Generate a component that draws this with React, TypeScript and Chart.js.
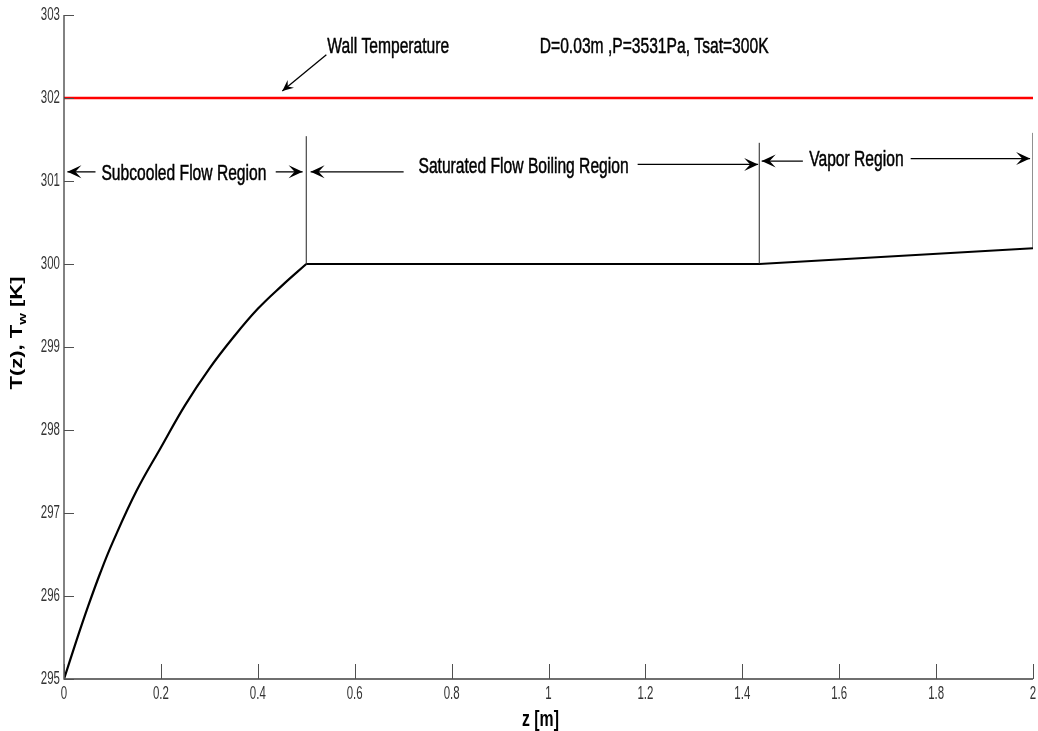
import React, { useEffect, useRef } from "react";
import { Chart, registerables } from "chart.js";

Chart.register(...registerables);

// ---- Data ----
const Z_SUBCOOLED = [0, 0.025, 0.05, 0.075, 0.1, 0.15, 0.2, 0.25, 0.3, 0.35, 0.4, 0.45, 0.5];
const T_SUBCOOLED = [295, 295.45, 295.88, 296.28, 296.64, 297.27, 297.79, 298.3, 298.74, 299.12, 299.46, 299.74, 300];
const Z_SAT_VAPOR = [0.5, 1.435, 2];
const T_SAT_VAPOR = [300, 300, 300.19];
const Z_WALL = [0, 2];
const T_WALL = [302, 302];
const Z_BOUND = [0.5, 1.435, 2];
const BOUND_BOTTOM = [300, 300, 300.19];
const BOUND_TOP = [301.54, 301.46, 301.58];
const X_TICKS = [0, 0.2, 0.4, 0.6, 0.8, 1, 1.2, 1.4, 1.6, 1.8, 2];
const Y_TICKS = [295, 296, 297, 298, 299, 300, 301, 302, 303];
const X_TITLE = "z [m]";
const INFO_TEXT = "D=0.03m ,P=3531Pa, Tsat=300K";
const WALL_LABEL = "Wall Temperature";
const REGION_LABELS = ["Subcooled Flow Region", "Saturated Flow Boiling Region", "Vapor Region"];
const REGION_LEFT_TIP = [0.007, 0.509, 1.44];
const REGION_LEFT_END = [0.065, 0.701, 1.525];
const REGION_TEXT_X = [0.2475, 0.9485, 1.6355];
const REGION_RIGHT_START = [0.437, 1.184, 1.7475];
const REGION_RIGHT_TIP = [0.4925, 1.4327, 1.994];
const REGION_Y_LEFT = [301.11, 301.11, 301.24];
const REGION_Y_TEXT = [301.09, 301.17, 301.25];
const REGION_Y_RIGHT = [301.11, 301.2, 301.27];

const FONT = "'Liberation Sans', Arial, Helvetica, sans-serif";
const SX = 0.71;

function drawText(
  ctx: CanvasRenderingContext2D,
  text: string,
  x: number,
  y: number,
  size: number,
  opts: { bold?: boolean; sx?: number; align?: CanvasTextAlign; baseline?: CanvasTextBaseline; color?: string; thick?: number } = {}
) {
  ctx.save();
  ctx.translate(x, y);
  ctx.scale(opts.sx ?? SX, 1);
  ctx.font = `${opts.bold ? "bold " : ""}${size}px ${FONT}`;
  ctx.textAlign = opts.align ?? "center";
  ctx.textBaseline = opts.baseline ?? "middle";
  ctx.fillStyle = opts.color ?? "#000";
  ctx.fillText(text, 0, 0);
  if (opts.thick) {
    ctx.strokeStyle = opts.color ?? "#000";
    ctx.lineWidth = opts.thick;
    ctx.strokeText(text, 0, 0);
  }
  ctx.restore();
}

function arrow(ctx: CanvasRenderingContext2D, x1: number, y1: number, x2: number, y2: number, L = 14, W = 6.5, N = 8) {
  ctx.save();
  ctx.strokeStyle = "#000";
  ctx.fillStyle = "#000";
  ctx.lineWidth = 1.3;
  ctx.beginPath();
  ctx.moveTo(x1, y1);
  ctx.lineTo(x2, y2);
  ctx.stroke();
  const dx = x2 - x1;
  const dy = y2 - y1;
  const len = Math.hypot(dx, dy) || 1;
  const ux = dx / len;
  const uy = dy / len;
  const px = -uy;
  const py = ux;
  ctx.beginPath();
  ctx.moveTo(x2, y2);
  ctx.lineTo(x2 - ux * L + px * W, y2 - uy * L + py * W);
  ctx.lineTo(x2 - ux * N, y2 - uy * N);
  ctx.lineTo(x2 - ux * L - px * W, y2 - uy * L - py * W);
  ctx.closePath();
  ctx.fill();
  ctx.restore();
}

const decorPlugin = {
  id: "decor",
  afterDatasetsDraw(chart: any) {
    const ctx: CanvasRenderingContext2D = chart.ctx;
    const xs = chart.scales.x;
    const ys = chart.scales.y;
    const area = chart.chartArea;
    const X = (v: number) => xs.getPixelForValue(v);
    const Y = (v: number) => ys.getPixelForValue(v);

    // axis lines
    ctx.save();
    ctx.strokeStyle = "#404040";
    ctx.lineWidth = 1.3;
    ctx.beginPath();
    ctx.moveTo(area.left, area.top);
    ctx.lineTo(area.left, area.bottom);
    ctx.lineTo(area.right, area.bottom);
    ctx.stroke();
    ctx.lineWidth = 1;
    ctx.strokeStyle = "#505050";
    ctx.beginPath();
    X_TICKS.forEach((t) => {
      const px = Math.round(X(t)) + 0.5;
      ctx.moveTo(px, area.bottom);
      ctx.lineTo(px, area.bottom - 15);
    });
    Y_TICKS.forEach((t) => {
      const py = Math.round(Y(t)) + 0.5;
      ctx.moveTo(area.left, py);
      ctx.lineTo(area.left + 10, py);
    });
    ctx.stroke();
    ctx.restore();

    // tick labels
    X_TICKS.forEach((t) => {
      drawText(ctx, String(t), X(t), area.bottom + 15, 18.5, { sx: 0.62, color: "#333" });
    });
    Y_TICKS.forEach((t) => {
      drawText(ctx, String(t), area.left - 4, Y(t), 18.5, { sx: 0.62, align: "right", color: "#333" });
    });

    // axis titles
    drawText(ctx, X_TITLE, (area.left + area.right) / 2 - 8, area.bottom + 41, 22, { bold: true, sx: 0.72 });

    ctx.save();
    ctx.translate(18, 333);
    ctx.scale(SX, 1);
    ctx.rotate(-Math.PI / 2);
    ctx.fillStyle = "#000";
    ctx.textBaseline = "middle";
    ctx.textAlign = "left";
    const big = `bold 22px ${FONT}`;
    const small = `bold 15px ${FONT}`;
    ctx.font = big;
    const p1 = "T(z), T";
    const p3 = " [K]";
    const w1 = ctx.measureText(p1).width;
    const w3 = ctx.measureText(p3).width;
    ctx.font = small;
    const w2 = ctx.measureText("w").width;
    const total = w1 + w2 + w3;
    let cx = -total / 2;
    ctx.font = big;
    ctx.fillText(p1, cx, 0);
    cx += w1;
    ctx.font = small;
    ctx.fillText("w", cx, 7);
    cx += w2;
    ctx.font = big;
    ctx.fillText(p3, cx, 0);
    ctx.restore();

    // annotations
    drawText(ctx, WALL_LABEL, X(0.5435), Y(302.62), 22, { align: "left", thick: 0.5 });
    arrow(ctx, X(0.5415), Y(302.52), X(0.4506), Y(302.085), 11, 5, 7);
    drawText(ctx, INFO_TEXT, X(0.982), Y(302.61), 22, { align: "left", thick: 0.5 });

    REGION_LABELS.forEach((label, i) => {
      arrow(ctx, X(REGION_LEFT_END[i]), Y(REGION_Y_LEFT[i]), X(REGION_LEFT_TIP[i]), Y(REGION_Y_LEFT[i]));
      arrow(ctx, X(REGION_RIGHT_START[i]), Y(REGION_Y_RIGHT[i]), X(REGION_RIGHT_TIP[i]), Y(REGION_Y_RIGHT[i]));
      drawText(ctx, label, X(REGION_TEXT_X[i]), Y(REGION_Y_TEXT[i]), 22, { thick: 0.5 });
    });
  },
};

export default function App() {
  const ref = useRef<HTMLCanvasElement | null>(null);
  useEffect(() => {
    if (!ref.current) return;
    const boundarySets = Z_BOUND.map((z, i) => ({
      data: [
        { x: z, y: BOUND_BOTTOM[i] },
        { x: z, y: BOUND_TOP[i] },
      ],
      borderColor: "#222",
      borderWidth: 1,
      pointRadius: 0,
    }));
    const chart = new Chart(ref.current, {
      type: "line",
      data: {
        datasets: [
          {
            data: Z_WALL.map((z, i) => ({ x: z, y: T_WALL[i] })),
            borderColor: "#ff0000",
            borderWidth: 2.6,
            pointRadius: 0,
          },
          ...boundarySets,
          {
            data: Z_SUBCOOLED.map((z, i) => ({ x: z, y: T_SUBCOOLED[i] })),
            borderColor: "#000",
            borderWidth: 2.2,
            pointRadius: 0,
            tension: 0.4,
          },
          {
            data: Z_SAT_VAPOR.map((z, i) => ({ x: z, y: T_SAT_VAPOR[i] })),
            borderColor: "#000",
            borderWidth: 2.2,
            pointRadius: 0,
            tension: 0,
          },
        ],
      },
      options: {
        animation: false,
        responsive: false,
        devicePixelRatio: 1,
        layout: { padding: { left: 0, top: 15, right: 5, bottom: 0 } },
        plugins: { legend: { display: false }, tooltip: { enabled: false } },
        scales: {
          x: {
            type: "linear",
            min: 0,
            max: 2,
            grid: { display: false, drawTicks: false },
            border: { display: false },
            ticks: { display: false },
            afterFit: (s: any) => {
              s.height = 52;
            },
          },
          y: {
            type: "linear",
            min: 295,
            max: 303,
            grid: { display: false, drawTicks: false },
            border: { display: false },
            ticks: { display: false },
            afterFit: (s: any) => {
              s.width = 64;
            },
          },
        },
      } as any,
      plugins: [decorPlugin],
    });
    return () => chart.destroy();
  }, []);
  return (
    <div style={{ position: "absolute", left: 0, top: 0, width: 1038, height: 731, background: "#fff" }}>
      <canvas ref={ref} width={1038} height={731} style={{ display: "block" }} />
    </div>
  );
}
